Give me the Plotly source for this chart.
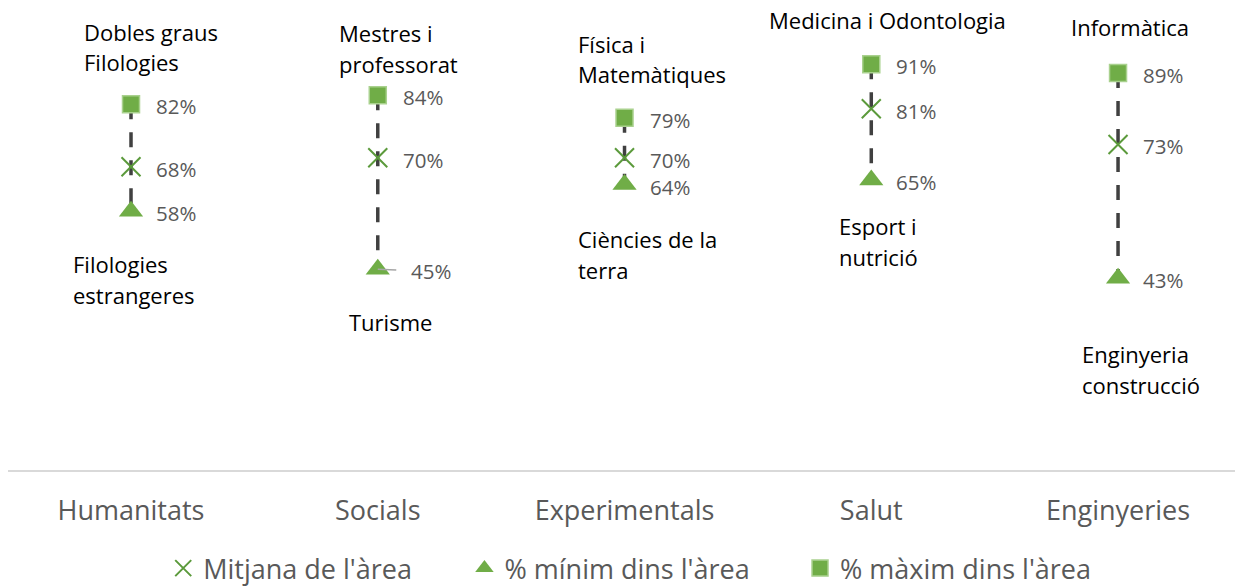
import plotly.graph_objects as go

# ---------------- data ----------------
categories = ["Humanitats", "Socials", "Experimentals", "Salut", "Enginyeries"]
max_vals = [0.82, 0.84, 0.79, 0.91, 0.89]
mean_vals = [0.68, 0.70, 0.70, 0.81, 0.73]
min_vals = [0.58, 0.45, 0.64, 0.65, 0.43]
max_names = ["Dobles graus\nFilologies", "Mestres i\nprofessorat", "Física i\nMatemàtiques",
             "Medicina i Odontologia", "Informàtica"]
min_names = ["Filologies\nestrangeres", "Turisme", "Ciències de la\nterra",
             "Esport i\nnutrició", "Enginyeria\nconstrucció"]
series_names = ["Mitjana de l'àrea", "% mínim dins l'àrea", "% màxim dins l'àrea"]

# ---------------- styling ----------------
FONT = "Open Sans"
GREEN = "#70AD47"
GREEN_LIGHT = "#A9D18E"
GREEN_DARK = "#5B9A3B"
LINE_GRAY = "#404040"
TXT_GRAY = "#595959"
LINE_SP = 30.5
# label offsets in pixels (dx of left edge, dy of nearest line from marker)
top_off = [(-49, 42), (-41, 31.5), (-49, 43.5), (-104, 44.5), (-49, 46)]
bot_off = [(-60, 53), (-31, 52.5), (-49, 54.5), (-34, 46), (-38, 76)]
LEADER = {1}

x = list(range(len(categories)))
fig = go.Figure()

# dashed connector lines (max -> min)
for i in x:
    fig.add_trace(go.Scatter(
        x=[i, i], y=[max_vals[i], min_vals[i]], mode="lines",
        line=dict(color=LINE_GRAY, width=3.5, dash="15px,13px"),
        showlegend=False, hoverinfo="skip"))

fig.add_trace(go.Scatter(
    x=x, y=max_vals, mode="markers", name=series_names[2], legend="legend3",
    marker=dict(symbol="square", size=17, color=GREEN,
                line=dict(color=GREEN_LIGHT, width=1.5))))
fig.add_trace(go.Scatter(
    x=x, y=mean_vals, mode="markers", name=series_names[0], legend="legend",
    marker=dict(symbol="x-thin", size=19, color=GREEN_DARK,
                line=dict(color=GREEN_DARK, width=2))))
fig.add_trace(go.Scatter(
    x=x, y=min_vals, mode="markers", name=series_names[1], legend="legend2",
    marker=dict(symbol="triangle-up", size=21, color=GREEN, line=dict(width=0))))

ann = []
# value labels
for i in x:
    for vals in (max_vals, mean_vals):
        ann.append(dict(x=i, y=vals[i], text=f"{vals[i]*100:.0f}%", showarrow=False,
                        xanchor="left", yanchor="middle", xshift=23, yshift=-2,
                        font=dict(family=FONT, size=20.5, color=TXT_GRAY)))
    if i in LEADER:
        ann.append(dict(x=i, y=min_vals[i], text=f"{min_vals[i]*100:.0f}%", showarrow=True,
                        arrowhead=0, arrowwidth=1.5, arrowcolor="#A6A6A6",
                        ax=53, ay=2, standoff=0, startstandoff=13,
                        font=dict(family=FONT, size=20.5, color=TXT_GRAY)))
    else:
        ann.append(dict(x=i, y=min_vals[i], text=f"{min_vals[i]*100:.0f}%", showarrow=False,
                        xanchor="left", yanchor="middle", xshift=23, yshift=-2,
                        font=dict(family=FONT, size=20.5, color=TXT_GRAY)))

# name labels above max and below min
for i in x:
    lines = max_names[i].split("\n")
    dx, dy = top_off[i]
    n = len(lines)
    for k, ln in enumerate(lines):
        ann.append(dict(x=i, y=max_vals[i], text=ln, showarrow=False,
                        xanchor="left", yanchor="middle", xshift=dx,
                        yshift=dy + (n - 1 - k) * LINE_SP,
                        font=dict(family=FONT, size=22, color="#000000")))
    lines = min_names[i].split("\n")
    dx, dy = bot_off[i]
    for k, ln in enumerate(lines):
        ann.append(dict(x=i, y=min_vals[i], text=ln, showarrow=False,
                        xanchor="left", yanchor="middle", xshift=dx,
                        yshift=-(dy + k * LINE_SP),
                        font=dict(family=FONT, size=22, color="#000000")))

leg_common = dict(orientation="h", yanchor="middle", xanchor="left", y=-0.221,
                  font=dict(family=FONT, size=27, color=TXT_GRAY),
                  bgcolor="rgba(0,0,0,0)", borderwidth=0)

fig.update_layout(
    width=1235, height=600,
    margin=dict(l=8, r=0, t=24, b=130),
    plot_bgcolor="white", paper_bgcolor="white",
    font=dict(family=FONT, color=TXT_GRAY),
    xaxis=dict(range=[-0.4985, 4.474], tickvals=x, ticktext=categories,
               showgrid=False, zeroline=False, showline=True,
               linecolor="#D9D9D9", linewidth=2, ticks="", ticklabelstandoff=16,
               tickfont=dict(family=FONT, size=27, color=TXT_GRAY)),
    yaxis=dict(range=[0, 1], visible=False, showgrid=False, zeroline=False),
    legend=dict(x=0.1265, **leg_common),
    legend2=dict(x=0.372, **leg_common),
    legend3=dict(x=0.6455, **leg_common),
    annotations=ann,
)
for tr in fig.data:
    tr.cliponaxis = False

fig.write_html("out.html", config={"displayModeBar": False},
               post_script="document.body.style.margin='0px';document.body.style.overflow='hidden';")
